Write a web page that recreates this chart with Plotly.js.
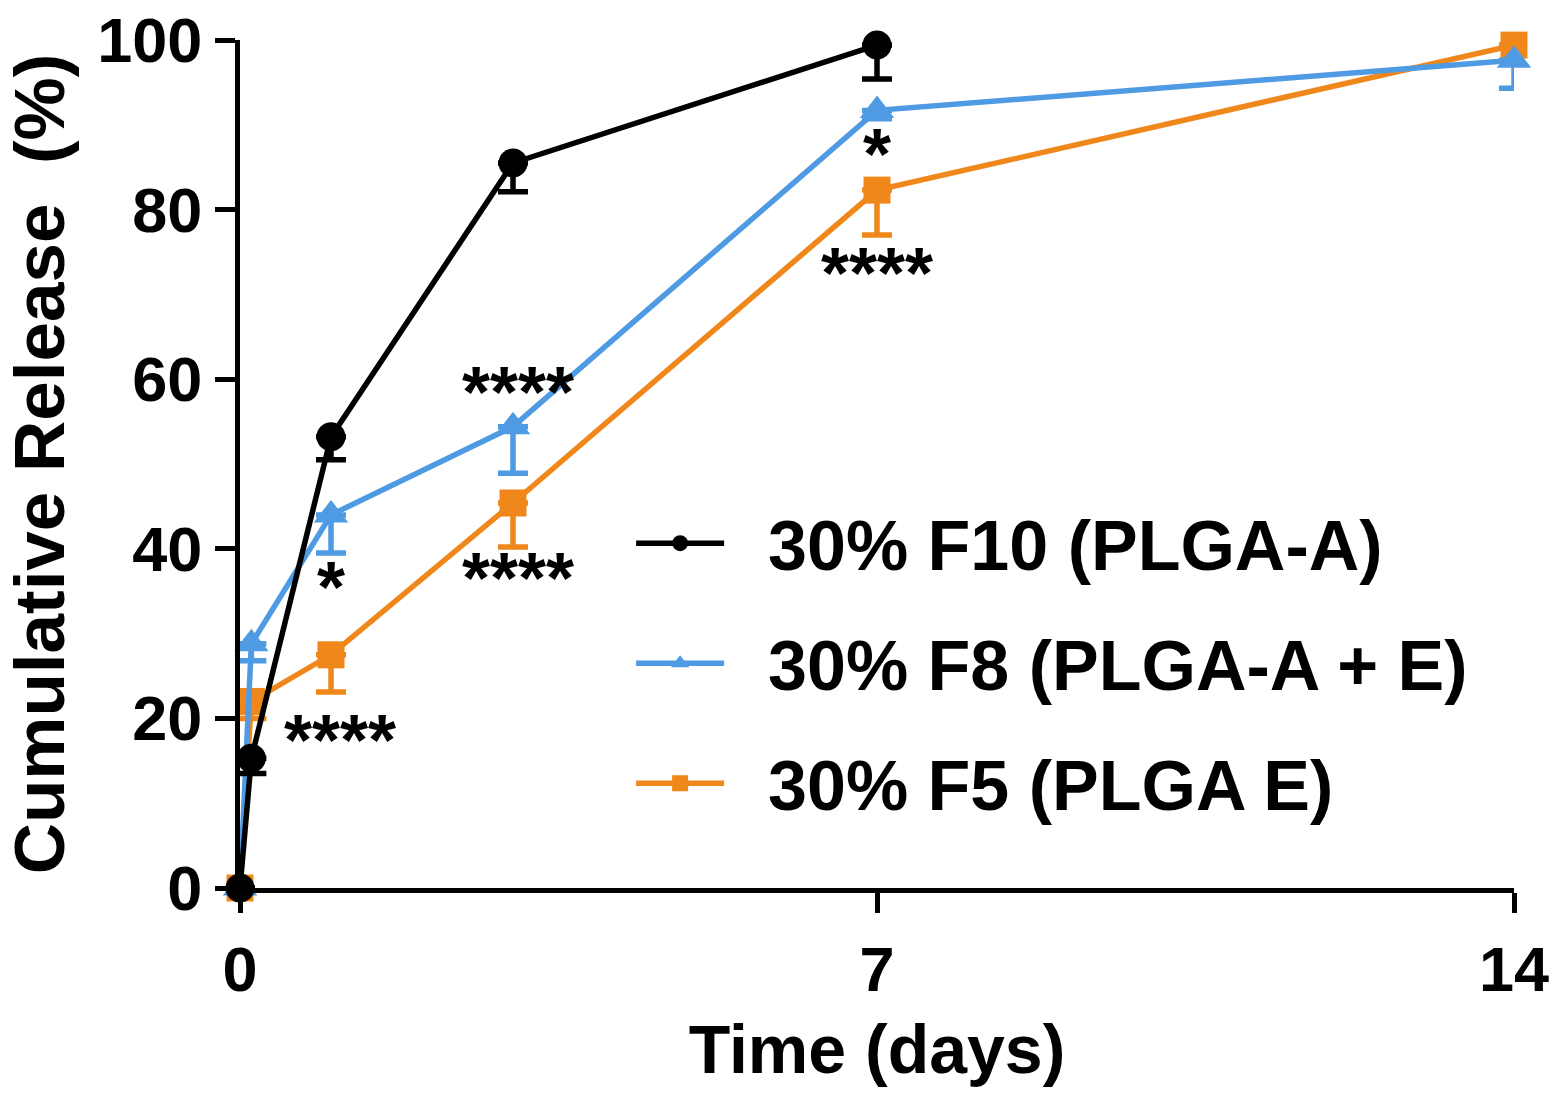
<!DOCTYPE html>
<html>
<head>
<meta charset="utf-8">
<script src="https://cdn.plot.ly/plotly-3.0.1.min.js"></script>
<style>
  body { margin: 0; background: #fff; }
  #chart { width: 1557px; height: 1117px; }
</style>
</head>
<body>
<div id="chart"></div>
<script>
// time points (days)
var days = [0, 0.125, 1, 3, 7, 14];

// 30% F10 (PLGA-A) - no 14 day point
var f10Days = [0, 0.125, 1, 3, 7];
var f10Release = [0, 15.3, 53.2, 85.5, 99.4];
var f10Err = [0, 1.8, 2.7, 3.4, 4.0];

// 30% F8 (PLGA-A + E)
var f8Release = [0, 28.8, 44.0, 54.4, 91.7, 97.6];
var f8Err = [0, 2.0, 4.5, 5.5, 1.0, 3.3];

// 30% F5 (PLGA E)
var f5Release = [0, 22.0, 27.5, 45.4, 82.3, 99.4];
var f5Err = [0, 2.0, 4.4, 5.2, 5.3, 0];

// significance marks
var starX = [1.1, 1, 3.05, 3.05, 7, 7];
var starY = [17.5, 35.5, 58.5, 36.5, 86.5, 72.5];
var starText = ['****', '*', '****', '****', '*', '****'];

var FONT = 'Liberation Sans, Arial, sans-serif';
var BLUE = '#4f9be3';
var ORANGE = '#f0871a';
var LW = 5.5;

function zeros(n) { return new Array(n).fill(0); }

function errBars(err, color) {
    return { type: 'data', symmetric: false, array: zeros(err.length), arrayminus: err,
             color: color, thickness: LW, width: 15 };
}

// orange first so black ends up on top, legendrank puts it back in order
var traces = [
    {
        x: days, y: f5Release, name: '\u00a0\u00a030% F5 (PLGA E)', legendgroup: 'f5', legendrank: 3,
        mode: 'lines+markers', type: 'scatter', cliponaxis: false,
        line: { color: ORANGE, width: LW },
        marker: { symbol: 'square', size: 27, color: ORANGE },
        error_y: errBars(f5Err, ORANGE)
    },
    {
        x: days, y: f8Release, name: '\u00a0\u00a030% F8 (PLGA-A + E)', legendgroup: 'f8', legendrank: 2,
        mode: 'lines+markers', type: 'scatter', cliponaxis: false,
        line: { color: BLUE, width: LW },
        marker: { symbol: 'triangle-up', size: 30, color: BLUE },
        error_y: errBars(f8Err, BLUE)
    },
    {
        x: f10Days, y: f10Release, name: '\u00a0\u00a030% F10 (PLGA-A)', legendgroup: 'f10', legendrank: 1,
        mode: 'lines+markers', type: 'scatter', cliponaxis: false,
        line: { color: '#000', width: LW },
        marker: { symbol: 'circle', size: 29, color: '#000' },
        error_y: errBars(f10Err, '#000')
    }
];

var annotations = starText.map(function (t, i) {
    return {
        x: starX[i], y: starY[i], xref: 'x', yref: 'y', text: t, showarrow: false,
        font: { family: FONT, size: 72, color: '#000', weight: 'bold' }, xanchor: 'center', yanchor: 'middle'
    };
});

var layout = {
    width: 1557, height: 1117,
    margin: { l: 240, r: 43, t: 40, b: 229 },
    paper_bgcolor: '#fff', plot_bgcolor: '#fff',
    font: { family: FONT, color: '#000' },
    showlegend: true,
    legend: {
        x: 0.307, y: 0.468, xanchor: 'left', yanchor: 'top',
        font: { family: FONT, size: 70, color: '#000', weight: 'bold' },
        bgcolor: 'rgba(0,0,0,0)', traceorder: 'grouped', tracegroupgap: 26, itemwidth: 88
    },
    xaxis: {
        range: [0, 14], tickvals: [0, 7, 14], ticktext: ['0', '7', '14'],
        showline: true, linecolor: '#000', linewidth: 5, mirror: false,
        ticks: 'outside', ticklen: 20, tickwidth: 5, tickcolor: '#000',
        showgrid: false, zeroline: false, ticklabelstandoff: 2,
        tickfont: { family: FONT, size: 63, weight: 'bold' },
        title: { text: 'Time (days)', font: { family: FONT, size: 68, weight: 'bold' }, standoff: 24 }
    },
    yaxis: {
        range: [0, 100], tickvals: [0, 20, 40, 60, 80, 100],
        showline: true, linecolor: '#000', linewidth: 5,
        ticks: 'outside', ticklen: 20, tickwidth: 5, tickcolor: '#000',
        showgrid: false, zeroline: false, ticklabelstandoff: 0,
        tickfont: { family: FONT, size: 63, weight: 'bold' },
        title: { text: 'Cumulative Release&nbsp;&nbsp;(%)', font: { family: FONT, size: 71, weight: 'bold' }, standoff: 22 }
    },
    annotations: annotations
};

Plotly.newPlot('chart', traces, layout, { displayModeBar: false, staticPlot: true });
</script>
</body>
</html>
